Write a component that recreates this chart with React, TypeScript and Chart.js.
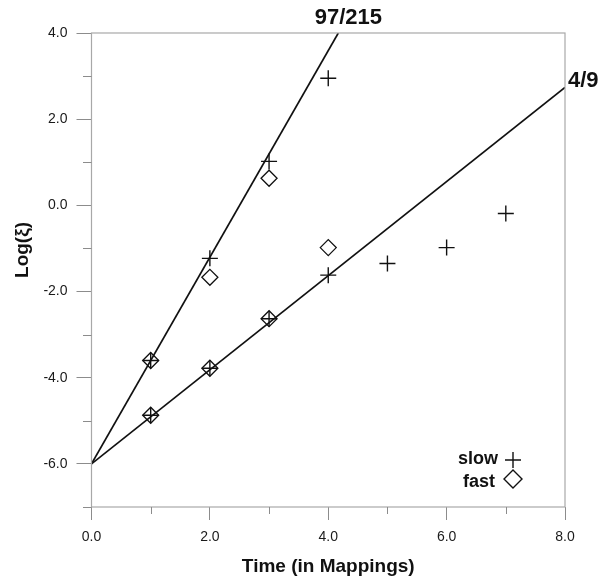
import React, { useEffect, useRef } from 'react';
import { Chart, registerables } from 'chart.js';

Chart.register(...registerables);

// ---- data ----
const slowTimes = [1, 2, 3, 4, 1, 2, 3, 4, 5, 6, 7];
const slowValues = [-3.6, -1.23, 1.02, 2.95, -4.87, -3.78, -2.63, -1.62, -1.35, -0.98, -0.19];
const fastTimes = [1, 2, 3, 1, 2, 3, 4];
const fastValues = [-3.6, -1.67, 0.63, -4.87, -3.78, -2.63, -0.98];

const fitLabels = ['97/215', '4/9'];
const fitStartX = [0, 0];
const fitStartY = [-6, -6];
const fitEndX = [4.17, 8];
const fitEndY = [4, 2.74];

const xMin = 0;
const xMax = 8;
const yMin = -7;
const yMax = 4;
const legendLabels = ['slow', 'fast'];
const xTitle = 'Time (in Mappings)';
const yTitle = 'Log(ξ)';

const FONT = '"Liberation Sans", Arial, Helvetica, sans-serif';
const INK = '#111111';
const FRAME = '#a8a8a8';
const TICK = '#8c8c8c';

const isMajor = (v: number) => Math.abs(Math.round(v) % 2) === 0;

const overlay = {
  id: 'overlay',
  afterDraw(chart: any) {
    const { ctx, chartArea: a, scales } = chart;
    const xs = scales.x;
    const ys = scales.y;
    ctx.save();
    // frame
    ctx.strokeStyle = FRAME;
    ctx.lineWidth = 1.2;
    ctx.strokeRect(a.left, a.top, a.right - a.left, a.bottom - a.top);
    // minor ticks
    ctx.strokeStyle = TICK;
    ctx.lineWidth = 1;
    ctx.beginPath();
    for (let v = xMin; v <= xMax; v++) {
      if (isMajor(v)) continue;
      const px = Math.round(xs.getPixelForValue(v)) + 0.5;
      ctx.moveTo(px, a.bottom);
      ctx.lineTo(px, a.bottom + 7);
    }
    for (let v = yMin; v <= yMax; v++) {
      if (isMajor(v)) continue;
      const py = Math.round(ys.getPixelForValue(v)) + 0.5;
      ctx.moveTo(a.left, py);
      ctx.lineTo(a.left - 8.5, py);
    }
    ctx.stroke();

    // fit labels
    ctx.fillStyle = INK;
    ctx.font = `bold 22px ${FONT}`;
    ctx.textBaseline = 'middle';
    ctx.textAlign = 'center';
    ctx.fillText(fitLabels[0], xs.getPixelForValue(fitEndX[0]) + 10, ys.getPixelForValue(fitEndY[0]) - 15);
    ctx.textAlign = 'left';
    ctx.fillText(fitLabels[1], xs.getPixelForValue(fitEndX[1]) + 3, ys.getPixelForValue(fitEndY[1]) - 6);

    // legend
    ctx.font = `bold 18px ${FONT}`;
    ctx.textAlign = 'right';
    ctx.fillText(legendLabels[0], 498, 459);
    ctx.fillText(legendLabels[1], 495, 482);
    ctx.strokeStyle = INK;
    ctx.lineWidth = 1.4;
    ctx.beginPath();
    ctx.moveTo(505, 460);
    ctx.lineTo(521, 460);
    ctx.moveTo(513, 452);
    ctx.lineTo(513, 468);
    ctx.stroke();
    ctx.beginPath();
    ctx.moveTo(504, 479);
    ctx.lineTo(513, 470);
    ctx.lineTo(522, 479);
    ctx.lineTo(513, 488);
    ctx.closePath();
    ctx.stroke();

    // y title
    ctx.font = `bold 19px ${FONT}`;
    ctx.textAlign = 'center';
    ctx.translate(23, 250);
    ctx.rotate(-Math.PI / 2);
    ctx.fillText(yTitle, 0, 0);
    ctx.restore();
  },
};

export default function App() {
  const ref = useRef<HTMLCanvasElement | null>(null);

  useEffect(() => {
    if (!ref.current) return;
    const fits = fitLabels.map((label, i) => ({
      type: 'line' as const,
      label,
      data: [
        { x: fitStartX[i], y: fitStartY[i] },
        { x: fitEndX[i], y: fitEndY[i] },
      ],
      borderColor: INK,
      borderWidth: 1.7,
      pointRadius: 0,
      showLine: true,
      fill: false,
    }));
    const chart = new Chart(ref.current, {
      type: 'scatter',
      data: {
        datasets: [
          ...fits,
          {
            type: 'scatter',
            label: legendLabels[0],
            data: slowTimes.map((t, i) => ({ x: t, y: slowValues[i] })),
            pointStyle: 'cross',
            pointRadius: 8,
            pointBorderWidth: 1.4,
            borderColor: INK,
            backgroundColor: 'transparent',
          },
          {
            type: 'scatter',
            label: legendLabels[1],
            data: fastTimes.map((t, i) => ({ x: t, y: fastValues[i] })),
            pointStyle: 'rectRot',
            pointRadius: 8,
            pointBorderWidth: 1.3,
            borderColor: INK,
            backgroundColor: 'transparent',
          },
        ] as any,
      },
      options: {
        animation: false,
        responsive: false,
        layout: { padding: { top: 33, right: 40, left: 0, bottom: 0 } },
        plugins: {
          legend: { display: false },
          tooltip: { enabled: false },
        },
        scales: {
          x: {
            type: 'linear',
            min: xMin,
            max: xMax,
            afterFit: (s: any) => { s.height = 75; },
            border: { display: false },
            grid: {
              drawOnChartArea: false,
              tickLength: 13,
              tickColor: (c: any) => (isMajor(c.tick.value) ? TICK : 'transparent'),
            },
            ticks: {
              stepSize: 1,
              padding: 9,
              color: '#1a1a1a',
              font: { family: FONT, size: 14 },
              callback: (v: any) => (isMajor(Number(v)) ? Number(v).toFixed(1) : ''),
            },
            title: {
              display: true,
              text: xTitle,
              color: INK,
              font: { family: FONT, size: 19, weight: 'bold' },
              padding: { top: 0, bottom: 4 },
            },
          },
          y: {
            type: 'linear',
            min: yMin,
            max: yMax,
            afterFit: (s: any) => { s.width = 91.5; },
            border: { display: false },
            grid: {
              drawOnChartArea: false,
              tickLength: 15,
              tickColor: (c: any) => (isMajor(c.tick.value) ? TICK : 'transparent'),
            },
            ticks: {
              stepSize: 1,
              padding: 9,
              color: '#1a1a1a',
              font: { family: FONT, size: 14 },
              callback: (v: any) => (isMajor(Number(v)) ? Number(v).toFixed(1) : ''),
            },
          },
        },
      },
      plugins: [overlay],
    });
    return () => chart.destroy();
  }, []);

  return (
    <div style={{ position: 'absolute', left: 0, top: 0, width: 605, height: 582, background: '#fff' }}>
      <canvas ref={ref} width={605} height={582} style={{ display: 'block' }} />
    </div>
  );
}
